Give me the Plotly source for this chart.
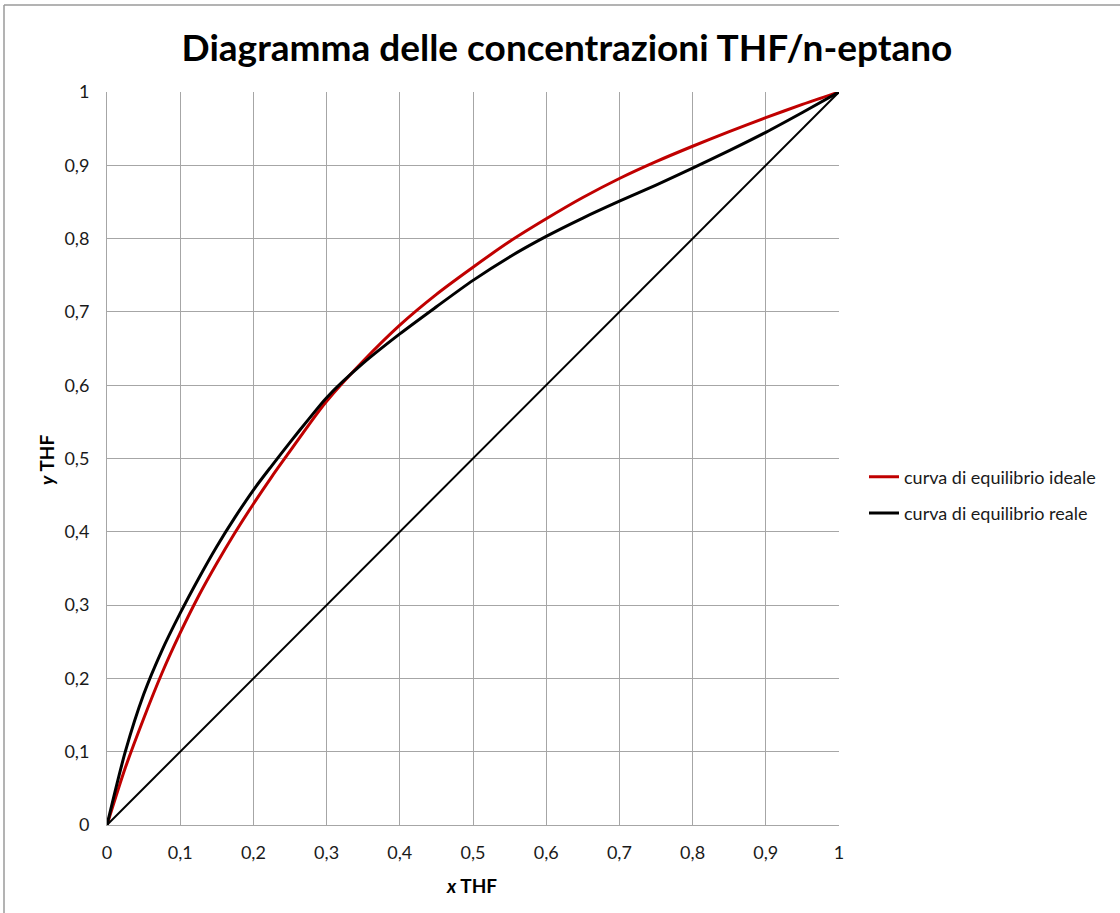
import plotly.graph_objects as go

# Data
x_ideal = [0, 0.025, 0.05, 0.075, 0.1, 0.125, 0.15, 0.175, 0.2, 0.225, 0.25, 0.275, 0.3, 0.35,
           0.4, 0.45, 0.5, 0.55, 0.6, 0.65, 0.7, 0.75, 0.8, 0.85, 0.9, 0.95, 1]
y_ideal = [0, 0.078, 0.145, 0.207, 0.262, 0.312, 0.357, 0.399, 0.438, 0.475, 0.51, 0.545, 0.578, 0.633,
           0.682, 0.724, 0.761, 0.796, 0.827, 0.856, 0.882, 0.905, 0.926, 0.946, 0.965, 0.983, 1]

x_real = [0, 0.025, 0.05, 0.075, 0.1, 0.125, 0.15, 0.175, 0.2, 0.225, 0.25, 0.275, 0.3, 0.35,
          0.4, 0.45, 0.5, 0.55, 0.6, 0.65, 0.7, 0.75, 0.8, 0.85, 0.9, 0.95, 1]
y_real = [0, 0.10, 0.178, 0.238, 0.289, 0.336, 0.38, 0.42, 0.457, 0.49, 0.522, 0.553, 0.583, 0.630,
          0.670, 0.707, 0.743, 0.775, 0.803, 0.828, 0.851, 0.873, 0.896, 0.92, 0.945, 0.972, 1]

x_diag = [0, 1]
y_diag = [0, 1]

tick_vals = [0, 0.1, 0.2, 0.3, 0.4, 0.5, 0.6, 0.7, 0.8, 0.9, 1]
tick_text = ["0", "0,1", "0,2", "0,3", "0,4", "0,5", "0,6", "0,7", "0,8", "0,9", "1"]

title_text = "Diagramma delle concentrazioni THF/n-eptano"
name_ideal = "curva di equilibrio ideale"
name_real = "curva di equilibrio reale"

W, H = 1120, 913
L, R, T, B = 107, 281, 92, 88
PW, PH = W - L - R, H - T - B

fig = go.Figure()
fig.add_trace(go.Scatter(x=x_ideal, y=y_ideal, mode="lines", name=name_ideal,
                         line=dict(color="#c00000", width=3, shape="spline", smoothing=0.8),
                         legendgroup="a"))
fig.add_trace(go.Scatter(x=x_real, y=y_real, mode="lines", name=name_real,
                         line=dict(color="#000000", width=3, shape="spline", smoothing=0.8),
                         legendgroup="b"))
fig.add_trace(go.Scatter(x=x_diag, y=y_diag, mode="lines", showlegend=False,
                         line=dict(color="#000000", width=2)))

font_family = "Lato, 'Open Sans', sans-serif"

axis_common = dict(
    range=[0, 1], tickvals=tick_vals, ticktext=tick_text,
    showgrid=True, gridcolor="#a6a6a6", gridwidth=1,
    zeroline=False, showline=True, linecolor="#a6a6a6", linewidth=1,
    ticks="", tickfont=dict(family=font_family, size=18, color="#1a1a1a"),
    fixedrange=True,
)

fig.update_layout(
    width=W, height=H,
    margin=dict(l=L, r=R, t=T, b=B),
    paper_bgcolor="white", plot_bgcolor="white",
    showlegend=True,
    legend=dict(x=(864 - L) / PW, xanchor="left", xref="paper",
                y=(H - B - 495) / PH, yanchor="middle",
                font=dict(family=font_family, size=18, color="#1a1a1a"),
                tracegroupgap=10, bgcolor="rgba(0,0,0,0)", itemwidth=30),
    title=dict(text="<b>" + title_text + "</b>", x=567 / W, xanchor="center",
               y=1 - 48 / H, yanchor="middle",
               font=dict(family=font_family, size=37, color="#000000")),
    xaxis=dict(**axis_common, ticklabelstandoff=11),
    yaxis=dict(**axis_common, ticklabelstandoff=13),
    annotations=[
        dict(text="<b><i>x</i> THF</b>", xref="paper", yref="paper",
             x=(471 - L) / PW, y=-(885 - (H - B)) / PH,
             xanchor="center", yanchor="middle", showarrow=False,
             font=dict(family=font_family, size=19, color="#000000")),
        dict(text="<b><i>y</i> THF</b>", xref="paper", yref="paper",
             x=-(L - 47) / PW, y=(H - B - 460) / PH,
             xanchor="center", yanchor="middle", showarrow=False, textangle=-90,
             font=dict(family=font_family, size=19, color="#000000")),
    ],
    shapes=[
        dict(type="line", xref="paper", yref="paper",
             x0=-(L - 4) / PW, x1=-(L - 4) / PW,
             y0=(H - B - 5) / PH, y1=-(B + 5) / PH,
             line=dict(color="#9a9a9a", width=1.5)),
        dict(type="line", xref="paper", yref="paper",
             x0=-(L - 4) / PW, x1=(W - L + 5) / PW,
             y0=(H - B - 5) / PH, y1=(H - B - 5) / PH,
             line=dict(color="#9a9a9a", width=1.5)),
    ],
)

fig.write_html("out.html", config={"displayModeBar": False})
